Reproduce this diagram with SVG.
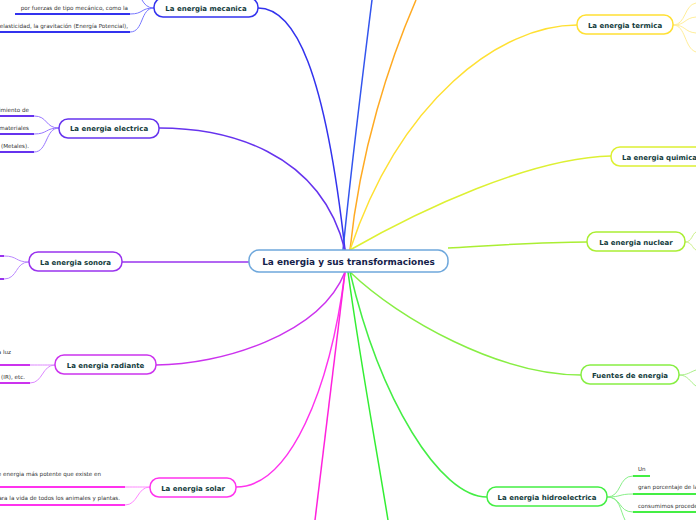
<svg xmlns="http://www.w3.org/2000/svg" width="696" height="520" viewBox="0 0 696 520">
<style>
.n{fill:#fff;stroke-width:1.5}
.t{font-family:"DejaVu Sans",sans-serif;font-weight:bold;font-size:7px;fill:#133c3c;text-anchor:middle}
.c{fill:none;stroke-width:1.5}
.lf{fill:none;stroke-width:1}
.ul{stroke-width:2}
.lt{font-family:"DejaVu Sans",sans-serif;font-size:5.6px;fill:#333}
</style>
<rect width="696" height="520" fill="#fff"/>
<g id="connectors">
<path class="c" stroke="#3333ee" d="M258,8 C295,8 325,70 345,250"/>
<path class="c" stroke="#3355ee" d="M343,250 C352,160 362,80 372,0"/>
<path class="c" stroke="#ffaa22" d="M350,250 C360,150 390,60 416,0"/>
<path class="c" stroke="#6633ee" d="M159,128 C225,128 320,150 345,250"/>
<path class="c" stroke="#9933ee" d="M122,262 L249,262"/>
<path class="c" stroke="#cc33ee" d="M156,365 C220,365 320,335 345,272"/>
<path class="c" stroke="#ff33ee" d="M236,487 C290,487 330,390 345,272"/>
<path class="c" stroke="#ff22dd" d="M345,272 C335,360 325,440 315,520"/>
<path class="c" stroke="#33ee33" d="M348,272 C360,360 375,440 388,520"/>
<path class="c" stroke="#ffe033" d="M350,250 C400,100 500,25 577,25"/>
<path class="c" stroke="#ddf033" d="M350,250 C420,210 530,158 611,156"/>
<path class="c" stroke="#aaee33" d="M448,248 C500,245 540,242 587,242"/>
<path class="c" stroke="#88ee44" d="M350,272 C400,320 500,375 581,375"/>
<path class="c" stroke="#44ee44" d="M350,272 C380,400 440,497 487,497"/>
<g stroke="#7777ff" class="lf">
<path d="M154,8 C140,8 144,14 130,14"/><path d="M154,8 C140,8 144,32 130,32"/><path d="M154,8 C140,8 144,-8 130,-8"/>
</g>
<g stroke="#9977ff" class="lf">
<path d="M59,128 C45,128 48,116 34,116"/><path d="M59,128 C45,128 48,134 34,134"/><path d="M59,128 C45,128 48,152 34,152"/>
</g>
<g stroke="#bb88ff" class="lf">
<path d="M29,262 C15,262 18,256 4,256"/><path d="M29,262 C15,262 18,279 4,279"/>
</g>
<g stroke="#dd88ff" class="lf">
<path d="M55,365 C42,365 43,365 30,365"/><path d="M55,365 C42,365 43,383 30,383"/>
</g>
<g stroke="#ff88ff" class="lf">
<path d="M150,487 C137,487 138,487 125,487"/><path d="M150,487 C137,487 138,505 125,505"/>
</g>
<g stroke="#ffee99" class="lf">
<path d="M673,25 C686,25 684,5 696,3"/><path d="M673,25 C686,25 684,18 696,17"/><path d="M673,25 C686,25 684,32 696,33"/><path d="M673,25 C686,25 684,48 696,52"/>
</g>
<g stroke="#ccf088" class="lf">
<path d="M685,242 C692,242 692,234 696,232"/><path d="M685,242 C692,242 692,248 696,250"/>
</g>
<g stroke="#aaf088" class="lf">
<path d="M679,375 C688,375 690,372 696,370"/><path d="M679,375 C688,375 690,382 696,386"/>
</g>
<g stroke="#88f088" class="lf">
<path d="M607,497 C622,497 618,476 633,476"/><path d="M607,497 C622,497 618,494 633,494"/><path d="M607,497 C622,497 618,512 633,512"/><path d="M607,497 C620,497 620,510 625,520"/>
</g>
</g>
<g id="leaves">
<line class="ul" stroke="#3333ee" x1="15" y1="14" x2="130" y2="14"/>
<text class="lt" x="128" y="10" text-anchor="end">por fuerzas de tipo mecánico, como la</text>
<line class="ul" stroke="#3333ee" x1="0" y1="32" x2="130" y2="32"/>
<text class="lt" x="128" y="28" text-anchor="end">elasticidad, la gravitación (Energía Potencial),</text>
<line class="ul" stroke="#6633ee" x1="0" y1="116" x2="34" y2="116"/>
<text class="lt" x="29" y="112" text-anchor="end">imiento de</text>
<line class="ul" stroke="#6633ee" x1="0" y1="134" x2="34" y2="134"/>
<text class="lt" x="29" y="130" text-anchor="end">materiales</text>
<line class="ul" stroke="#6633ee" x1="0" y1="152" x2="34" y2="152"/>
<text class="lt" x="29" y="148" text-anchor="end">(Metales).</text>
<line class="ul" stroke="#9933ee" x1="0" y1="256" x2="4" y2="256"/>
<line class="ul" stroke="#9933ee" x1="0" y1="279" x2="4" y2="279"/>
<line class="ul" stroke="#cc33ee" x1="0" y1="365" x2="30" y2="365"/>
<text class="lt" x="11" y="354" text-anchor="end">a luz</text>
<line class="ul" stroke="#cc33ee" x1="0" y1="383" x2="30" y2="383"/>
<text class="lt" x="25" y="379" text-anchor="end">(IR), etc.</text>
<line class="ul" stroke="#ff33ee" x1="0" y1="487" x2="125" y2="487"/>
<text class="lt" x="101" y="476" text-anchor="end">e energia más potente que existe en</text>
<line class="ul" stroke="#ff33ee" x1="0" y1="505" x2="125" y2="505"/>
<text class="lt" x="120" y="500" text-anchor="end">ara la vida de todos los animales y plantas.</text>
<line class="ul" stroke="#44ee44" x1="633" y1="476" x2="650" y2="476"/>
<text class="lt" x="638" y="471">Un</text>
<line class="ul" stroke="#44ee44" x1="633" y1="494" x2="696" y2="494"/>
<text class="lt" x="638" y="489">gran porcentaje de la</text>
<line class="ul" stroke="#44ee44" x1="633" y1="512" x2="696" y2="512"/>
<text class="lt" x="638" y="508">consumimos procede</text>
</g>
<g id="center">
<rect class="n" x="249" y="250" width="199" height="22" rx="10" stroke="#6fa8dc"/>
<text class="t" x="348.5" y="264.5" style="font-size:8.9px;fill:#15224a">La energia y sus transformaciones</text>
</g>
<g id="mecanica">
<rect class="n" x="154" y="-2" width="104" height="19" rx="9" stroke="#3333ee"/>
<text class="t" x="206" y="10.5">La energia mecanica</text>
</g>
<g id="electrica">
<rect class="n" x="59" y="119" width="100" height="19" rx="9" stroke="#6633ee"/>
<text class="t" x="109" y="131">La energia electrica</text>
</g>
<g id="sonora">
<rect class="n" x="29" y="252" width="93" height="19" rx="9" stroke="#9933ee"/>
<text class="t" x="75.5" y="264.5">La energia sonora</text>
</g>
<g id="radiante">
<rect class="n" x="55" y="355" width="101" height="19" rx="9" stroke="#cc33ee"/>
<text class="t" x="105.5" y="367.5">La energia radiante</text>
</g>
<g id="solar">
<rect class="n" x="150" y="478" width="86" height="19" rx="9" stroke="#ff33ee"/>
<text class="t" x="193" y="490.5">La energia solar</text>
</g>
<g id="termica">
<rect class="n" x="577" y="15" width="96" height="19" rx="9" stroke="#ffe033"/>
<text class="t" x="625" y="27.5">La energia termica</text>
</g>
<g id="quimica">
<rect class="n" x="611" y="147" width="100" height="19" rx="9" stroke="#ddf033"/>
<text class="t" x="622" y="159.5" style="text-anchor:start">La energia quimica</text>
</g>
<g id="nuclear">
<rect class="n" x="587" y="232" width="98" height="19" rx="9" stroke="#aaee33"/>
<text class="t" x="636" y="244.5">La energia nuclear</text>
</g>
<g id="fuentes">
<rect class="n" x="581" y="365" width="98" height="19" rx="9" stroke="#88ee44"/>
<text class="t" x="630" y="377.5">Fuentes de energia</text>
</g>
<g id="hidroelectrica">
<rect class="n" x="487" y="487" width="120" height="19" rx="9" stroke="#44ee44"/>
<text class="t" x="547" y="499.5">La energia hidroelectrica</text>
</g>
</svg>
